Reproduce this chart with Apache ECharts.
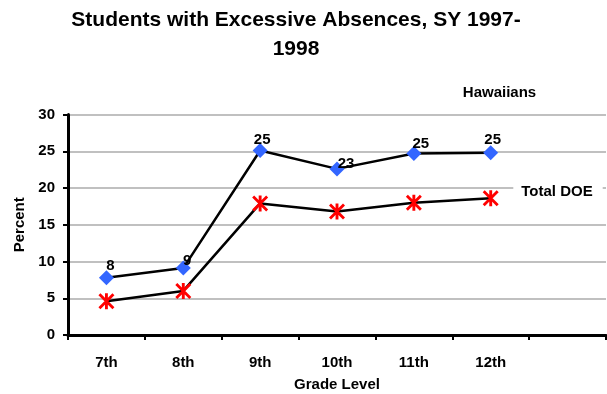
<!DOCTYPE html>
<html>
<head>
<meta charset="utf-8">
<script src="https://cdn.jsdelivr.net/npm/echarts@6/dist/echarts.min.js"></script>
<style>
  html, body { margin: 0; padding: 0; background: #fff; }
  #chart { width: 607px; height: 394px; }
</style>
</head>
<body>
<div id="chart"></div>
<script>
// Grade levels (one trailing empty slot leaves room on the right of the plot)
const grades = ['7th', '8th', '9th', '10th', '11th', '12th', ''];
// Percent of students with excessive absences
const hawaiians = [7.8, 9.1, 25.1, 22.6, 24.7, 24.8];
const totalDOE = [4.6, 6.0, 17.9, 16.8, 18.0, 18.6];
const yTicks = { min: 0, max: 30, step: 5 };

// Pixel nudges for the Hawaiians value labels, relative to each marker
const labelNudge = [[4, -12], [4, -7], [2, -11], [9, -5], [7, -10], [2, -13]];

const FONT = '"Liberation Sans", Arial, sans-serif';
// Six-armed star marker: a vertical bar plus two diagonals
const asterisk = 'path://M8.2,0L11.8,0L11.8,20L8.2,20Z M0,2.5L2.5,0L20,17.5L17.5,20Z M17.5,0L20,2.5L2.5,20L0,17.5Z';

const chart = echarts.init(document.getElementById('chart'), null, { renderer: 'canvas' });

const boldText = { fontFamily: FONT, fontWeight: 'bold', fontSize: 15, color: '#000' };

chart.setOption({
  backgroundColor: '#ffffff',
  animation: false,
  grid: { left: 68, right: 1, top: 114.5, bottom: 59, containLabel: false, outerBoundsMode: 'none' },
  xAxis: {
    type: 'category',
    data: grades,
    boundaryGap: true,
    name: 'Grade Level',
    nameLocation: 'middle',
    nameGap: 42,
    nameTextStyle: boldText,
    axisLine: { lineStyle: { color: '#000', width: 3 } },
    axisTick: { show: true, length: 5, lineStyle: { color: '#000', width: 2 } },
    axisLabel: Object.assign({ margin: 20 }, boldText),
    splitLine: { show: false }
  },
  yAxis: {
    type: 'value',
    min: yTicks.min,
    max: yTicks.max,
    interval: yTicks.step,
    name: 'Percent',
    nameLocation: 'middle',
    nameRotate: 90,
    nameGap: 40,
    nameTextStyle: boldText,
    axisLine: { show: true, lineStyle: { color: '#000', width: 3 } },
    axisTick: { show: true, length: 5, lineStyle: { color: '#000', width: 2 } },
    axisLabel: Object.assign({ margin: 13 }, boldText),
    splitLine: { show: true, lineStyle: { color: '#c0c0c0', width: 2 } }
  },
  series: [
    {
      name: 'Hawaiians',
      type: 'line',
      data: hawaiians.map((v, i) => ({
        value: v,
        label: { offset: labelNudge[i] }
      })),
      symbol: 'diamond',
      symbolSize: 15,
      itemStyle: { color: '#3366ff' },
      lineStyle: { color: '#000', width: 2.5 },
      label: Object.assign({
        show: true,
        position: 'inside',
        formatter: p => Math.round(p.value)
      }, boldText),
      z: 3
    },
    {
      name: 'Total DOE',
      type: 'line',
      data: totalDOE,
      symbol: asterisk,
      symbolSize: 16,
      itemStyle: { color: '#ff0000' },
      lineStyle: { color: '#000', width: 2.5 },
      z: 2
    }
  ],
  graphic: [
    {
      type: 'text',
      x: 296, y: 34.5,
      z: 100,
      style: {
        text: 'Students with Excessive Absences, SY 1997-\n1998',
        textAlign: 'center', textVerticalAlign: 'middle',
        font: 'bold 21px ' + FONT, lineHeight: 29, fill: '#000'
      }
    },
    {
      type: 'text',
      x: 499.5, y: 93,
      z: 100,
      style: {
        text: 'Hawaiians', textAlign: 'center', textVerticalAlign: 'middle',
        font: 'bold 15px ' + FONT, fill: '#000'
      }
    },
    {
      type: 'text',
      x: 558, y: 192,
      z: 100,
      style: {
        text: 'Total DOE', textAlign: 'center', textVerticalAlign: 'middle',
        font: 'bold 15px ' + FONT, fill: '#000',
        backgroundColor: '#ffffff', padding: [4, 10, 4, 8]
      }
    }
  ]
});
</script>
</body>
</html>
